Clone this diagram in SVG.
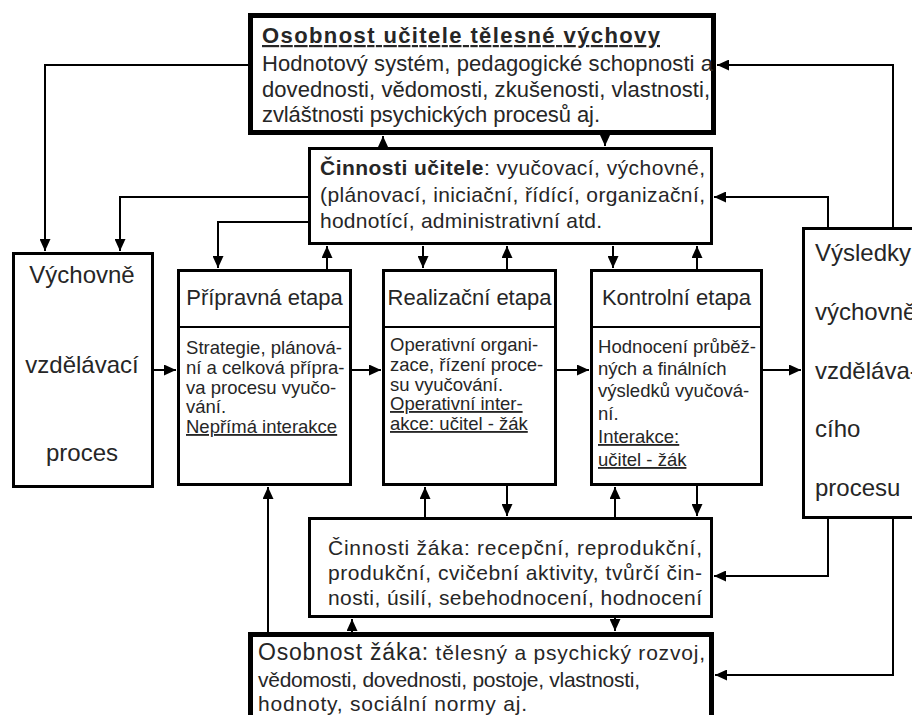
<svg xmlns="http://www.w3.org/2000/svg" width="912" height="715" viewBox="0 0 912 715">
<defs>
<marker id="ah" markerUnits="userSpaceOnUse" markerWidth="12" markerHeight="11" refX="12" refY="5.5" orient="auto">
<path d="M0,0 L12,5.5 L0,11 z" fill="#000"/>
</marker>
<style>
.box{fill:#fff;stroke:#000;stroke-width:3}
.thick{fill:#fff;stroke:#000;stroke-width:5}
.c{fill:none;stroke:#000;stroke-width:2;marker-end:url(#ah)}
.n{fill:none;stroke:#000;stroke-width:2}
text{font-family:"Liberation Sans",Arial,sans-serif;fill:#262626}
.t22{font-size:22px}
.t21{font-size:21px}
.t19{font-size:18.5px}
.t24{font-size:24px}
.b{font-weight:bold}
.u{text-decoration:underline}
.mid{text-anchor:middle}
</style>
</defs>
<rect width="912" height="715" fill="#fff"/>

<g id="connectors">
<path class="c" d="M248,65 H45 V251"/>
<path class="c" d="M308,197 H120 V251"/>
<path class="c" d="M308,222 H218 V268"/>
<path class="c" d="M327,269 V246"/>
<path class="c" d="M423,246 V268"/>
<path class="c" d="M507,269 V246"/>
<path class="c" d="M613,246 V268"/>
<path class="c" d="M697,269 V246"/>
<path class="c" d="M383,147 V136"/>
<path class="c" d="M605,136 V146"/>
<path class="c" d="M154,370 H176"/>
<path class="c" d="M352,370 H381"/>
<path class="c" d="M557,370 H589"/>
<path class="c" d="M763,370 H801"/>
<path class="c" d="M828,227 V197 H714"/>
<path class="c" d="M893,227 V65 H717"/>
<path class="c" d="M828,519 V576 H714"/>
<path class="c" d="M893,519 V675 H715"/>
<path class="c" d="M268,632 V487"/>
<path class="c" d="M425,517 V487"/>
<path class="c" d="M507,486 V516"/>
<path class="c" d="M615,517 V487"/>
<path class="c" d="M697,486 V516"/>
<path class="c" d="M352,632 V619"/>
<path class="c" d="M615,618 V631"/>
</g>

<g id="osobnost-ucitele">
<rect class="thick" x="250.5" y="15.5" width="463" height="117"/>
<text class="t22 b u" x="262" y="43" textLength="398" font-size="23">Osobnost učitele tělesné výchovy</text>
<text class="t22" x="262" y="71" textLength="451">Hodnotový systém, pedagogické schopnosti a</text>
<text class="t22" x="262" y="97" textLength="448">dovednosti, vědomosti, zkušenosti, vlastnosti,</text>
<text class="t22" x="262" y="122" textLength="338">zvláštnosti psychických procesů aj.</text>
</g>

<g id="cinnosti-ucitele">
<rect class="box" x="309.5" y="148.5" width="402" height="95"/>
<text class="t21" x="320" y="175" textLength="385"><tspan class="b">Činnosti učitele</tspan>: vyučovací, výchovné,</text>
<text class="t21" x="320" y="202" textLength="385">(plánovací, iniciační, řídící, organizační,</text>
<text class="t21" x="320" y="228" textLength="282">hodnotící, administrativní atd.</text>
</g>

<g id="vychovne-vzdelavaci-proces">
<rect class="box" x="13.5" y="253.5" width="139" height="233"/>
<text class="t24 mid" x="82" y="283">Výchovně</text>
<text class="t24 mid" x="82" y="373">vzdělávací</text>
<text class="t24 mid" x="82" y="461">proces</text>
</g>

<g id="pripravna-etapa">
<rect class="box" x="178.5" y="270.5" width="172" height="214"/>
<line class="n" x1="178.5" y1="327" x2="350.5" y2="327" stroke-width="3"/>
<text class="t22 mid" x="264.5" y="305">Přípravná etapa</text>
<text class="t19" x="186" y="354" textLength="156">Strategie, plánová-</text>
<text class="t19" x="186" y="374">ní a celková přípra-</text>
<text class="t19" x="186" y="394">va procesu vyučo-</text>
<text class="t19" x="186" y="413">vání.</text>
<text class="t19 u" x="186" y="433">Nepřímá interakce</text>
</g>

<g id="realizacni-etapa">
<rect class="box" x="383.5" y="270.5" width="172" height="214"/>
<line class="n" x1="383.5" y1="327" x2="555.5" y2="327" stroke-width="3"/>
<text class="t22 mid" x="469.5" y="305">Realizační etapa</text>
<text class="t19" x="390" y="351">Operativní organi-</text>
<text class="t19" x="390" y="371">zace, řízení proce-</text>
<text class="t19" x="390" y="391">su vyučování.</text>
<text class="t19 u" x="390" y="410">Operativní inter-</text>
<text class="t19 u" x="390" y="430">akce: učitel - žák</text>
</g>

<g id="kontrolni-etapa">
<rect class="box" x="591.5" y="270.5" width="170" height="214"/>
<line class="n" x1="591.5" y1="327" x2="761.5" y2="327" stroke-width="3"/>
<text class="t22 mid" x="676.5" y="305">Kontrolní etapa</text>
<text class="t19" x="598" y="353" textLength="158">Hodnocení průběž-</text>
<text class="t19" x="598" y="375">ných a finálních</text>
<text class="t19" x="598" y="397">výsledků vyučová-</text>
<text class="t19" x="598" y="420">ní.</text>
<text class="t19 u" x="598" y="443">Interakce:</text>
<text class="t19 u" x="598" y="466">učitel - žák</text>
</g>

<g id="vysledky">
<rect class="box" x="803.5" y="228.5" width="200" height="289"/>
<text class="t24" x="815" y="261">Výsledky</text>
<text class="t24" x="815" y="320">výchovně</text>
<text class="t24" x="815" y="379">vzděláva-</text>
<text class="t24" x="815" y="437">cího</text>
<text class="t24" x="815" y="496">procesu</text>
</g>

<g id="cinnosti-zaka">
<rect class="box" x="309.5" y="518.5" width="402" height="98"/>
<text class="t21" x="328" y="555" textLength="374">Činnosti žáka: recepční, reprodukční,</text>
<text class="t21" x="328" y="580" textLength="374">produkční, cvičební aktivity, tvůrčí čin-</text>
<text class="t21" x="328" y="605" textLength="374">nosti, úsilí, sebehodnocení, hodnocení</text>
</g>

<g id="osobnost-zaka">
<rect class="thick" x="250.5" y="634.5" width="461" height="100"/>
<text class="t21" x="258" y="660" textLength="447"><tspan font-size="23">Osobnost žáka:</tspan> tělesný a psychický rozvoj,</text>
<text class="t21" x="258" y="687" textLength="382">vědomosti, dovednosti, postoje, vlastnosti,</text>
<text class="t21" x="258" y="711" textLength="269">hodnoty, sociální normy aj.</text>
</g>
</svg>
